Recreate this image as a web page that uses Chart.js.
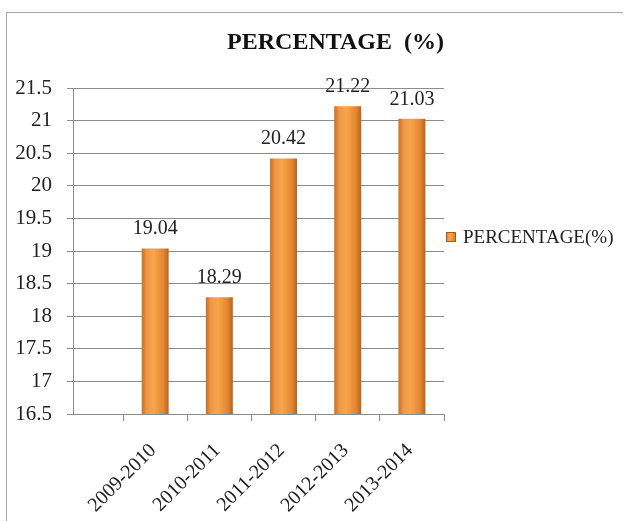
<!DOCTYPE html>
<html>
<head>
<meta charset="utf-8">
<script src="https://cdn.jsdelivr.net/npm/chart.js@4.4.0/dist/chart.umd.min.js"></script>
<style>
  body { margin: 0; background: #fff; }
  #wrap { position: relative; width: 638px; height: 521px; }
  #frame { position: absolute; left: 6px; top: 12px; width: 616px; height: 520px;
           border-left: 1px solid #a6a6a6; border-top: 1px solid #a6a6a6; }
  #chart { position: absolute; left: 0; top: 0; }
</style>
</head>
<body>
<div id="wrap">
  <div id="frame"></div>
  <canvas id="chart" width="638" height="521"></canvas>
</div>
<script>
const categories = ['2009-2010', '2010-2011', '2011-2012', '2012-2013', '2013-2014'];
const values = [19.04, 18.29, 20.42, 21.22, 21.03];
const seriesName = 'PERCENTAGE(%)';
const chartTitle = 'PERCENTAGE  (%)';

const serif = "'Liberation Serif', 'Times New Roman', serif";
Chart.defaults.font.family = serif;
Chart.defaults.color = '#222';

// tick marks sit between the bars, labels under the bars
const tickValues = [];
categories.forEach((c, i) => { tickValues.push(i - 0.5, i); });
tickValues.push(categories.length - 0.5);

const gridColor = '#8c8c8c';

function orangeAcross(ctx2d, x0, x1) {
  const g = ctx2d.createLinearGradient(x0, 0, x1, 0);
  g.addColorStop(0, '#c46a24');
  g.addColorStop(0.2, '#f09843');
  g.addColorStop(0.45, '#f8a44f');
  g.addColorStop(0.8, '#e3862f');
  g.addColorStop(1, '#b25e1e');
  return g;
}

function barFill(ctx) {
  const x = ctx.chart.scales.x;
  if (ctx.type !== 'data' || !x) return '#ee8c3a';
  const cx = x.getPixelForValue(ctx.parsed.x);
  if (!Number.isFinite(cx)) return '#ee8c3a';
  return orangeAcross(ctx.chart.ctx, cx - 14, cx + 14);
}

// numbers above each bar
const valueLabels = {
  id: 'valueLabels',
  afterDatasetsDraw(chart) {
    const ctx = chart.ctx;
    const meta = chart.getDatasetMeta(0);
    ctx.save();
    ctx.font = '20px ' + serif;
    ctx.fillStyle = '#222';
    ctx.textAlign = 'center';
    ctx.textBaseline = 'alphabetic';
    meta.data.forEach((bar, i) => {
      ctx.fillText(values[i].toFixed(2), bar.x, bar.y - 14);
    });
    ctx.restore();
  }
};

// single legend entry just right of the plot (built-in legend box is too narrow here)
const sideLegend = {
  id: 'sideLegend',
  afterDraw(chart) {
    const { ctx, chartArea } = chart;
    const x = chartArea.right + 2;
    const y = (chartArea.top + chartArea.bottom) / 2 - 14;
    ctx.save();
    ctx.fillStyle = orangeAcross(ctx, x, x + 10);
    ctx.fillRect(x, y - 5, 10, 10);
    ctx.strokeStyle = '#a95a1c';
    ctx.lineWidth = 1;
    ctx.strokeRect(x + 0.5, y - 4.5, 9, 9);
    ctx.font = '19px ' + serif;
    ctx.fillStyle = '#222';
    ctx.textAlign = 'left';
    ctx.textBaseline = 'middle';
    ctx.fillText(seriesName, x + 17, y + 1);
    ctx.restore();
  }
};

new Chart(document.getElementById('chart'), {
  type: 'bar',
  data: {
    datasets: [{
      label: seriesName,
      data: values.map((v, i) => ({ x: i, y: v })),
      backgroundColor: barFill,
      borderWidth: 0,
      barPercentage: 0.84,
      categoryPercentage: 1
    }]
  },
  options: {
    responsive: false,
    animation: false,
    layout: { padding: { left: 8, right: 194, top: 0, bottom: 0 } },
    scales: {
      x: {
        type: 'linear',
        bounds: 'data',
        offset: false,
        min: -1.28,
        max: categories.length - 0.5,
        afterBuildTicks: scale => { scale.ticks = tickValues.map(v => ({ value: v })); },
        afterFit: scale => { scale.height = 107; },
        grid: {
          offset: false,
          drawOnChartArea: false,
          tickLength: 7,
          tickColor: ctx => (ctx.tick && Number.isInteger(ctx.tick.value)) ? 'rgba(0,0,0,0)' : gridColor
        },
        border: { color: gridColor },
        ticks: {
          autoSkip: false,
          minRotation: 45,
          maxRotation: 45,
          padding: 18,
          labelOffset: -2,
          font: { size: 20 },
          color: '#222',
          callback: v => Number.isInteger(v) ? categories[v] : ''
        }
      },
      y: {
        min: 16.5,
        max: 21.5,
        afterFit: scale => { scale.width = 65; },
        grid: { color: gridColor, tickLength: 6 },
        border: { color: gridColor },
        ticks: {
          stepSize: 0.5,
          padding: 15,
          font: { size: 21 },
          color: '#222',
          callback: v => String(v)
        }
      }
    },
    plugins: {
      title: {
        display: true,
        text: chartTitle,
        color: '#111',
        fullSize: false,
        align: 'end',
        font: { size: 24, weight: 'bold' },
        padding: { top: 28.6, bottom: 30.6 }
      },
      legend: { display: false },
      tooltip: { enabled: false }
    }
  },
  plugins: [valueLabels, sideLegend]
});
</script>
</body>
</html>
